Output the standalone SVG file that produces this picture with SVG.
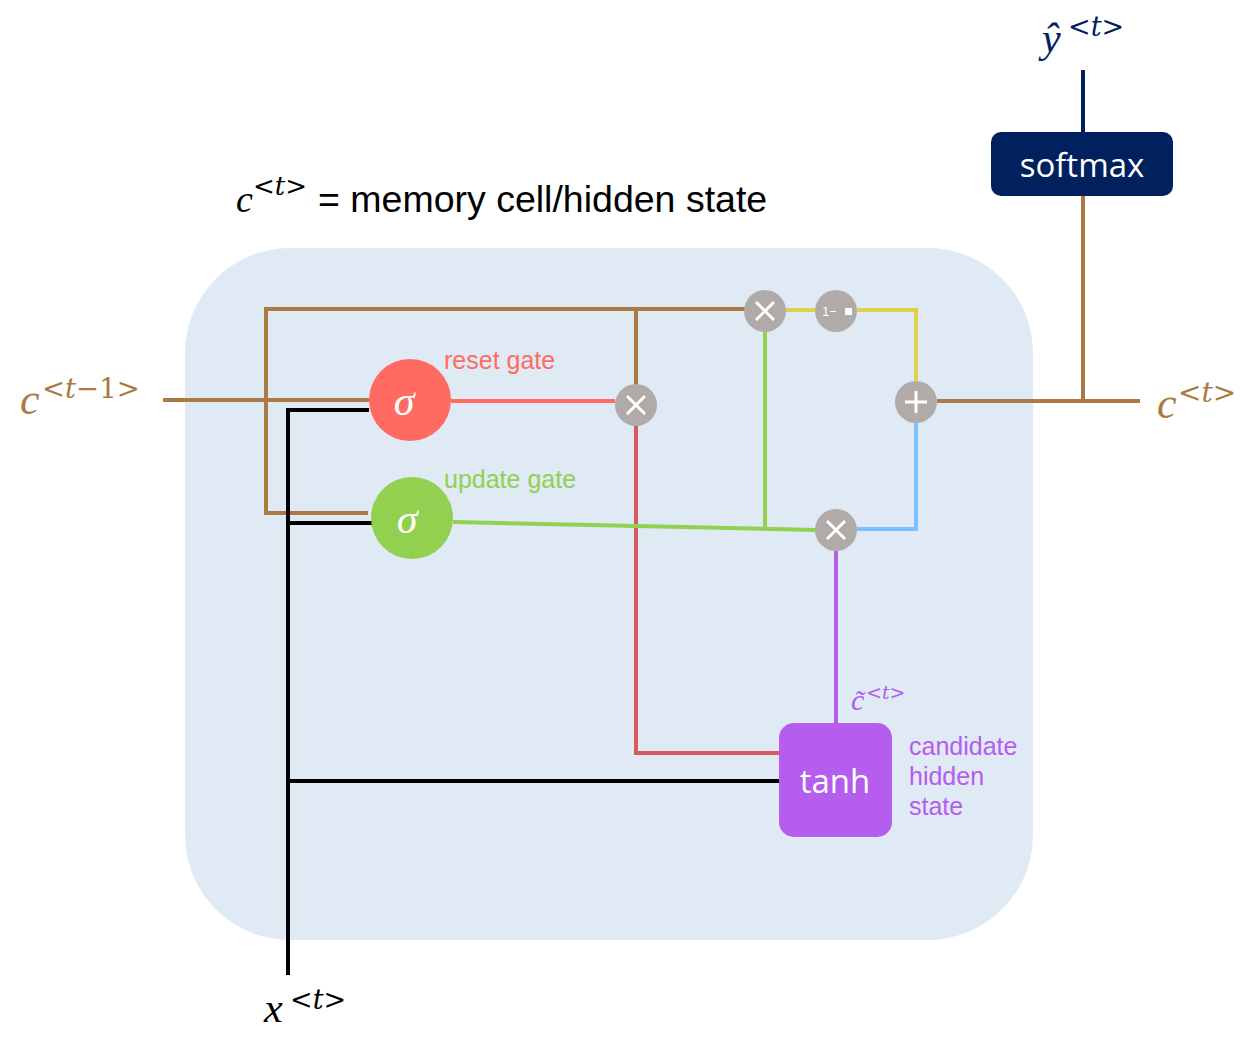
<svg xmlns="http://www.w3.org/2000/svg" width="1260" height="1041" viewBox="0 0 1260 1041">
<style>
.br{stroke:#ab7942;stroke-width:4;fill:none}
.bk{stroke:#000;stroke-width:4;fill:none}
.op{fill:#b0aaa8}
.opt{stroke:#fff;stroke-width:3;fill:none}
.math{font-family:"Liberation Serif","DejaVu Serif",serif;font-style:italic}
.sup{font-family:"DejaVu Serif","Liberation Serif",serif}
.lbl{font-family:"Liberation Sans",Arial,sans-serif;font-size:25px}
.box{font-family:"Open Sans","Noto Sans",sans-serif;fill:#fff;font-size:33px;text-anchor:middle}
</style>
<rect x="185" y="248" width="848" height="692" rx="105" fill="#dfeaf5"/>
<g id="connectors">
<polyline class="br" points="163,400 369,400"/>
<polyline class="br" points="765,309 266,309 266,513 368,513"/>
<polyline class="br" points="636,309 636,385"/>
<polyline class="br" points="937,401 1140,401"/>
<polyline class="br" points="1083,401 1083,196"/>
<line x1="1083" y1="70" x2="1083" y2="133" stroke="#00215e" stroke-width="4"/>
<polyline class="bk" points="288,975 288,410 369,410"/>
<polyline class="bk" points="288,523 372,523"/>
<polyline class="bk" points="288,781 779,781"/>
<line x1="451" y1="401" x2="615" y2="401" stroke="#ff6b61" stroke-width="4"/>
<polyline points="636,425 636,753 779,753" stroke="#d95a5e" stroke-width="4" fill="none"/>
<line x1="453" y1="522" x2="815" y2="530" stroke="#92d050" stroke-width="4"/>
<line x1="765" y1="331" x2="765" y2="528" stroke="#92d050" stroke-width="4"/>
<polyline points="786,310 815,310" stroke="#dcd34a" stroke-width="4" fill="none"/>
<polyline points="857,310 916,310 916,381" stroke="#dcd34a" stroke-width="4" fill="none"/>
<polyline points="857,529 916,529 916,423" stroke="#7fbfff" stroke-width="4" fill="none"/>
<line x1="836" y1="551" x2="836" y2="723" stroke="#b55ded" stroke-width="4"/>
</g>
<g id="reset_sigma">
<circle cx="410" cy="400" r="41" fill="#ff6b61"/>
<text x="404" y="415" class="math" font-size="42" fill="#fff" text-anchor="middle">σ</text>
</g>
<g id="update_sigma">
<circle cx="412" cy="518" r="41" fill="#92d050"/>
<text x="407" y="533" class="math" font-size="42" fill="#fff" text-anchor="middle">σ</text>
</g>
<g id="mul_reset">
<circle class="op" cx="636" cy="405" r="21"/>
<path class="opt" d="M627,396 L645,414 M645,396 L627,414"/>
</g>
<g id="mul_top">
<circle class="op" cx="765" cy="311" r="21"/>
<path class="opt" d="M756,302 L774,320 M774,302 L756,320"/>
</g>
<g id="one_minus">
<circle class="op" cx="836" cy="311" r="21"/>
<text x="822" y="316" font-family="Liberation Sans,sans-serif" font-size="13" fill="#fff">1−</text>
<rect x="845" y="308" width="7" height="7" fill="#fff"/>
</g>
<g id="plus">
<circle class="op" cx="916" cy="402" r="21"/>
<path class="opt" d="M905,402 L927,402 M916,391 L916,413"/>
</g>
<g id="mul_bottom">
<circle class="op" cx="836" cy="530" r="21"/>
<path class="opt" d="M827,521 L845,539 M845,521 L827,539"/>
</g>
<g id="tanh">
<rect x="779" y="723" width="113" height="114" rx="15" fill="#b55ded"/>
<text x="835" y="793" class="box">tanh</text>
</g>
<g id="softmax">
<rect x="991" y="132" width="182" height="64" rx="10" fill="#00215e"/>
<text x="1082" y="177" class="box">softmax</text>
</g>
<g id="labels">
<text x="444" y="369" class="lbl" fill="#ff6b61">reset gate</text>
<text x="444" y="488" class="lbl" fill="#92d050">update gate</text>
<text class="lbl" fill="#b55ded"><tspan x="909" y="755">candidate</tspan><tspan x="909" y="785">hidden</tspan><tspan x="909" y="815">state</tspan></text>
<text x="851" y="710" class="math" font-size="30" fill="#b55ded">c̃</text>
<text x="866" y="699" class="sup" font-size="19" fill="#b55ded">&lt;<tspan font-style="italic">t</tspan>&gt;</text>
<text x="236" y="212" class="math" font-size="38" fill="#000">c</text>
<text x="253" y="195" class="sup" font-size="26" fill="#000">&lt;<tspan font-style="italic">t</tspan>&gt;</text>
<text x="318" y="212" font-family="Liberation Sans,Arial,sans-serif" font-size="37.5" fill="#000">= memory cell/hidden state</text>
<text x="20" y="414" class="math" font-size="44" fill="#ab7942">c</text>
<text x="42" y="398" class="sup" font-size="27.5" fill="#ab7942">&lt;<tspan font-style="italic">t</tspan>−1&gt;</text>
<text x="1157" y="418" class="math" font-size="44" fill="#ab7942">c</text>
<text x="1178" y="402" class="sup" font-size="28" fill="#ab7942">&lt;<tspan font-style="italic">t</tspan>&gt;</text>
<text x="1042" y="52" class="math" font-size="42" fill="#00215e">ŷ</text>
<text x="1068" y="36" class="sup" font-size="27" fill="#00215e">&lt;<tspan font-style="italic">t</tspan>&gt;</text>
<text x="264" y="1022" class="math" font-size="42" fill="#000">x</text>
<text x="290" y="1009" class="sup" font-size="27" fill="#000">&lt;<tspan font-style="italic">t</tspan>&gt;</text>
</g>
</svg>
